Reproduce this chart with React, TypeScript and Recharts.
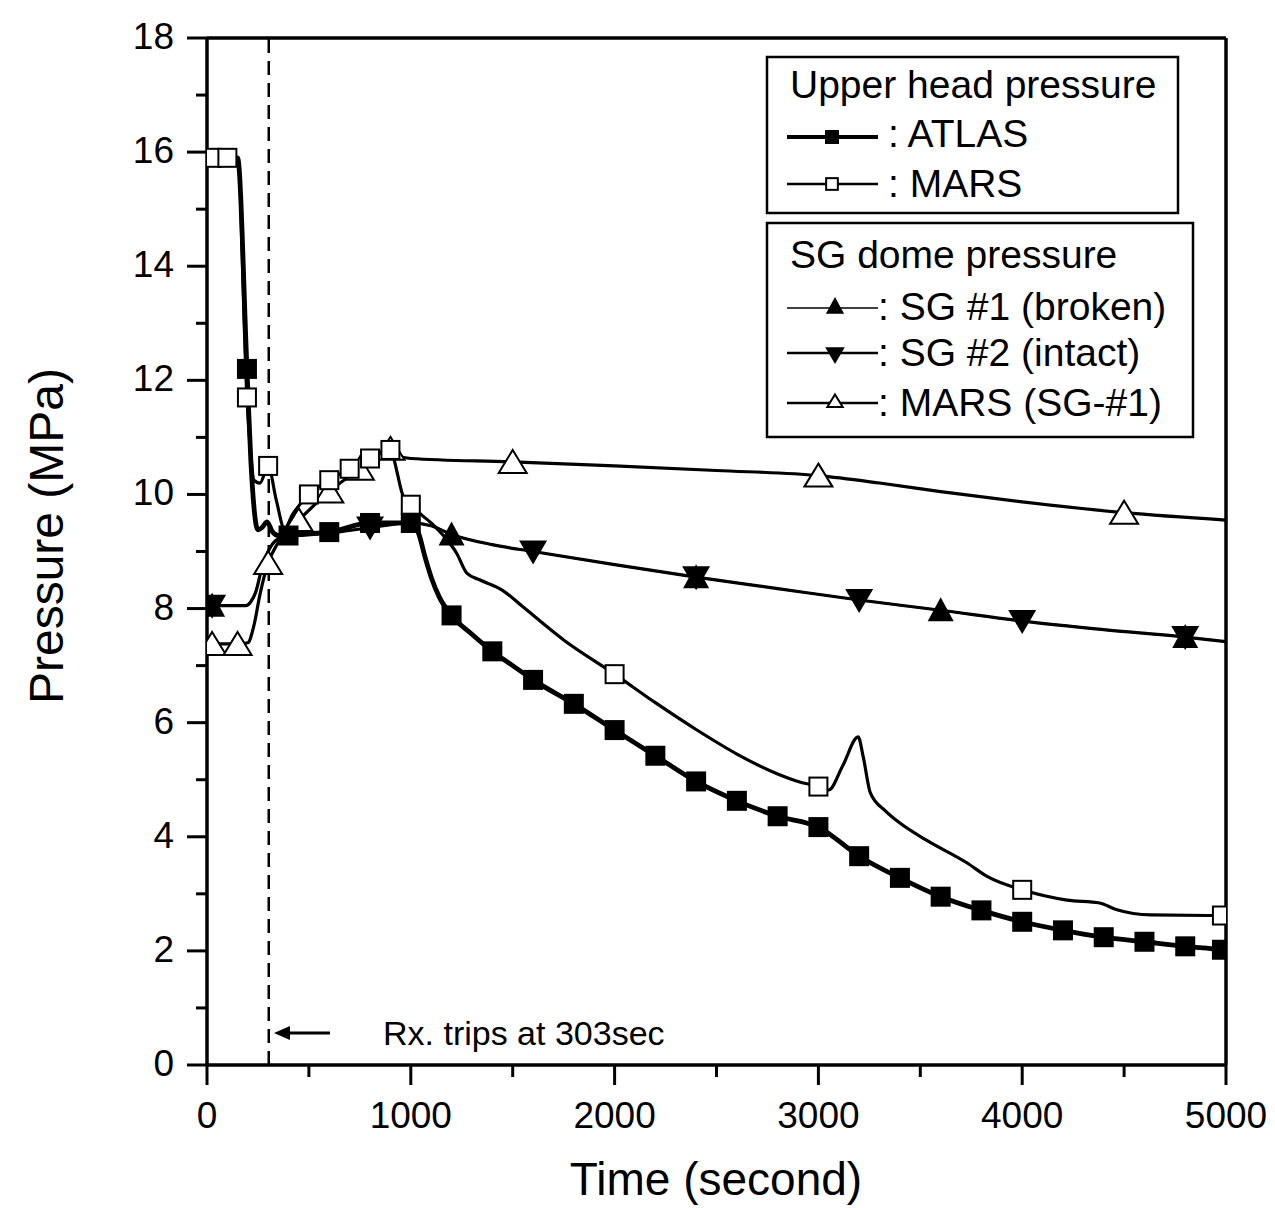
import React from 'react';
import { LineChart, Line, XAxis, YAxis, ReferenceLine } from 'recharts';

// upper head pressure, ATLAS test
const atlasTime = [0, 150, 196, 215, 250, 270, 295, 320, 350, 400, 450, 600, 800, 1000, 1040, 1070, 1100, 1140, 1200, 1300, 1400, 1500, 1600, 1800, 2000, 2200, 2400, 2600, 2800, 3000, 3200, 3400, 3600, 3800, 4000, 4200, 4400, 4600, 4800, 4980, 5000];
const atlasPressure = [15.9, 15.9, 12.2, 10.6, 9.38, 9.42, 9.52, 9.35, 9.28, 9.28, 9.3, 9.34, 9.5, 9.5, 9.3, 8.9, 8.55, 8.2, 7.88, 7.55, 7.25, 7.0, 6.75, 6.33, 5.87, 5.42, 4.97, 4.63, 4.36, 4.17, 3.66, 3.28, 2.95, 2.71, 2.51, 2.36, 2.24, 2.16, 2.08, 2.02, 2.01];
const atlasMarks = [196, 400, 600, 800, 1000, 1200, 1400, 1600, 1800, 2000, 2200, 2400, 2600, 2800, 3000, 3200, 3400, 3600, 3800, 4000, 4200, 4400, 4600, 4800, 4980];

// upper head pressure, MARS calculation
const marsTime = [0, 25, 100, 150, 196, 215, 230, 260, 300, 340, 380, 420, 500, 600, 700, 800, 900, 915, 935, 955, 975, 1000, 1050, 1100, 1160, 1225, 1275, 1340, 1450, 1550, 1750, 2000, 2200, 2400, 2600, 2800, 2900, 3000, 3050, 3120, 3195, 3220, 3255, 3330, 3400, 3530, 3730, 3830, 4000, 4220, 4380, 4465, 4630, 4980, 5000];
const marsPressure = [15.9, 15.9, 15.9, 15.9, 11.7, 10.7, 10.25, 10.2, 10.5, 9.9, 9.4, 9.65, 10.0, 10.25, 10.45, 10.63, 10.78, 10.65, 10.35, 10.05, 9.88, 9.82, 9.65, 9.5, 9.28, 8.97, 8.62, 8.5, 8.32, 8.03, 7.45, 6.85, 6.35, 5.88, 5.45, 5.1, 4.97, 4.88, 4.82, 5.25, 5.75, 5.4, 4.77, 4.45, 4.24, 3.94, 3.54, 3.3, 3.07, 2.89, 2.84, 2.72, 2.63, 2.62, 2.62];
const marsMarks = [25, 100, 196, 300, 500, 600, 700, 800, 900, 1000, 2000, 3000, 4000, 4980];

// SG dome pressure (SG #1 and SG #2 lie on top of each other)
const sgTime = [0, 25, 190, 215, 240, 265, 300, 340, 380, 450, 600, 800, 1000, 1100, 1200, 1400, 1600, 2000, 2400, 2800, 3200, 3600, 4000, 4400, 4800, 5000];
const sg1Pressure = [8.05, 8.05, 8.05, 8.12, 8.3, 8.65, 9.0, 9.2, 9.25, 9.28, 9.32, 9.42, 9.5, 9.45, 9.3, 9.12, 9.0, 8.77, 8.55, 8.35, 8.15, 7.97, 7.78, 7.63, 7.5, 7.42];
const sg2Pressure = [8.05, 8.05, 8.05, 8.12, 8.3, 8.65, 9.0, 9.2, 9.25, 9.28, 9.32, 9.42, 9.5, 9.45, 9.3, 9.12, 9.0, 8.77, 8.55, 8.35, 8.15, 7.97, 7.78, 7.63, 7.5, 7.42];
const sg1Marks = [25, 1200, 2400, 3600, 4800];
const sg2Marks = [25, 800, 1600, 2400, 3200, 4000, 4800];

// MARS, SG-#1 dome
const marsSgTime = [0, 25, 150, 200, 230, 260, 300, 340, 380, 450, 600, 750, 900, 950, 1000, 1500, 2000, 2500, 3000, 3300, 3600, 4000, 4500, 5000];
const marsSgPressure = [7.38, 7.38, 7.38, 7.4, 7.7, 8.25, 8.8, 9.1, 9.3, 9.55, 10.05, 10.45, 10.8, 10.66, 10.63, 10.57, 10.5, 10.42, 10.33, 10.2, 10.05, 9.87, 9.68, 9.55];
const marsSgMarks = [25, 150, 300, 450, 600, 750, 900, 1500, 3000, 4500];

const xTicks = [0, 500, 1000, 1500, 2000, 2500, 3000, 3500, 4000, 4500, 5000];
const yTicks = [0, 1, 2, 3, 4, 5, 6, 7, 8, 9, 10, 11, 12, 13, 14, 15, 16, 17, 18];

const FONT = 'Liberation Sans, Arial, sans-serif';

const build = (t: number[], p: number[]) => t.map((v, i) => ({ t: v, p: p[i] }));

const marker = (kind: string, cx: number, cy: number, s = 1, key?: any) => {
  if (kind === 'fsq') return <rect key={key} x={cx - 10 * s} y={cy - 10 * s} width={20 * s} height={20 * s} fill="#000" />;
  if (kind === 'osq')
    return <rect key={key} x={cx - 9 * s} y={cy - 9 * s} width={18 * s} height={18 * s} fill="#fff" stroke="#000" strokeWidth={2} />;
  if (kind === 'up')
    return <polygon key={key} points={`${cx},${cy - 13 * s} ${cx + 13 * s},${cy + 11 * s} ${cx - 13 * s},${cy + 11 * s}`} fill="#000" />;
  if (kind === 'down')
    return <polygon key={key} points={`${cx},${cy + 13 * s} ${cx + 14 * s},${cy - 11 * s} ${cx - 14 * s},${cy - 11 * s}`} fill="#000" />;
  return (
    <polygon key={key} points={`${cx},${cy - 12 * s} ${cx + 14 * s},${cy + 11 * s} ${cx - 14 * s},${cy + 11 * s}`} fill="#fff" stroke="#000" strokeWidth={2} />
  );
};

const makeDot = (marks: number[], kind: string) => (props: any) => {
  const { cx, cy, payload, index } = props;
  if (cx == null || cy == null || !marks.includes(payload.t)) return <g key={`d${index}`} />;
  return marker(kind, cx, cy, 1, `d${index}`);
};

const XTick = (props: any) => {
  const { x, y, payload } = props;
  const major = payload.value % 1000 === 0;
  return (
    <g>
      <line x1={x} y1={y} x2={x} y2={y + (major ? 20 : 12)} stroke="#000" strokeWidth={3} />
      {major && (
        <text x={x} y={y + 63} textAnchor="middle" fontSize={37} fontFamily={FONT} fill="#000">
          {payload.value}
        </text>
      )}
    </g>
  );
};

const YTick = (props: any) => {
  const { x, y, payload } = props;
  const major = payload.value % 2 === 0;
  return (
    <g>
      <line x1={x} y1={y} x2={x - (major ? 20 : 11)} y2={y} stroke="#000" strokeWidth={3} />
      {major && (
        <text x={x - 33} y={y + 11} textAnchor="end" fontSize={37} fontFamily={FONT} fill="#000">
          {payload.value}
        </text>
      )}
    </g>
  );
};

const Overlay = () => (
  <svg width={1267} height={1200} style={{ position: 'absolute', left: 0, top: 0, pointerEvents: 'none' }}>
    <g transform="translate(-8,-8)" fontFamily={FONT} fill="#000">
      <text x={63} y={536} fontSize={48} textAnchor="middle" transform="rotate(-90 63 536)">
        Pressure (MPa)
      </text>
      <text x={716} y={1195} fontSize={46} textAnchor="middle">
        Time (second)
      </text>

      <line x1={330} y1={1033} x2={285} y2={1033} stroke="#000" strokeWidth={3} />
      <polygon points="274,1033 290,1026 290,1040" fill="#000" />
      <text x={383} y={1045} fontSize={34}>
        Rx. trips at 303sec
      </text>

      <rect x={767} y={57} width={411} height={156} fill="#fff" stroke="#000" strokeWidth={2.5} />
      <text x={790} y={98} fontSize={39}>Upper head pressure</text>
      <line x1={787} y1={137} x2={878} y2={137} stroke="#000" strokeWidth={4} />
      {marker('fsq', 832, 137, 0.7)}
      <text x={888} y={147} fontSize={39}>: ATLAS</text>
      <line x1={787} y1={184} x2={878} y2={184} stroke="#000" strokeWidth={2.5} />
      {marker('osq', 832, 184, 0.65)}
      <text x={888} y={197} fontSize={39}>: MARS</text>

      <rect x={767} y={223} width={426} height={214} fill="#fff" stroke="#000" strokeWidth={2.5} />
      <text x={790} y={268} fontSize={39}>SG dome pressure</text>
      <line x1={787} y1={308} x2={878} y2={308} stroke="#000" strokeWidth={1.5} />
      {marker('up', 835, 306, 0.7)}
      <text x={878} y={320} fontSize={39}>: SG #1 (broken)</text>
      <line x1={787} y1={353} x2={878} y2={353} stroke="#000" strokeWidth={2.5} />
      {marker('down', 835, 355, 0.7)}
      <text x={878} y={366} fontSize={39}>: SG #2 (intact)</text>
      <line x1={787} y1={403} x2={878} y2={403} stroke="#000" strokeWidth={2.5} />
      {marker('otri', 835, 401, 0.55)}
      <text x={878} y={416} fontSize={39}>: MARS (SG-#1)</text>
    </g>
  </svg>
);

export default function App() {
  return (
    <div style={{ position: 'relative', width: 1267, height: 1200 }}>
      <LineChart width={1267} height={1200} margin={{ top: 30, right: 49, left: 99, bottom: 3 }}>
        <XAxis
          dataKey="t"
          type="number"
          domain={[0, 5000]}
          ticks={xTicks}
          interval={0}
          tickSize={0}
          tickMargin={0}
          tickLine={false}
          tick={XTick}
          height={140}
          allowDataOverflow
          axisLine={{ stroke: '#000', strokeWidth: 3.5 }}
        />
        <YAxis
          type="number"
          domain={[0, 18]}
          ticks={yTicks}
          interval={0}
          tickSize={0}
          tickMargin={0}
          tickLine={false}
          tick={YTick}
          width={100}
          allowDataOverflow
          axisLine={{ stroke: '#000', strokeWidth: 3.5 }}
        />
        <ReferenceLine y={18} stroke="#000" strokeWidth={3.5} />
        <ReferenceLine x={5000} stroke="#000" strokeWidth={3.5} />
        <ReferenceLine x={303} stroke="#000" strokeWidth={2.5} strokeDasharray="14 8" />
        <Line data={build(marsSgTime, marsSgPressure)} dataKey="p" type="monotone" stroke="#000" strokeWidth={3.2} dot={makeDot(marsSgMarks, 'otri')} isAnimationActive={false} />
        <Line data={build(marsTime, marsPressure)} dataKey="p" type="monotone" stroke="#000" strokeWidth={3.2} dot={makeDot(marsMarks, 'osq')} isAnimationActive={false} />
        <Line data={build(atlasTime, atlasPressure)} dataKey="p" type="monotone" stroke="#000" strokeWidth={4.8} dot={makeDot(atlasMarks, 'fsq')} isAnimationActive={false} />
        <Line data={build(sgTime, sg2Pressure)} dataKey="p" type="monotone" stroke="#000" strokeWidth={3.2} dot={makeDot(sg2Marks, 'down')} isAnimationActive={false} />
        <Line data={build(sgTime, sg1Pressure)} dataKey="p" type="monotone" stroke="#000" strokeWidth={2} dot={makeDot(sg1Marks, 'up')} isAnimationActive={false} />
      </LineChart>
      <Overlay />
    </div>
  );
}
